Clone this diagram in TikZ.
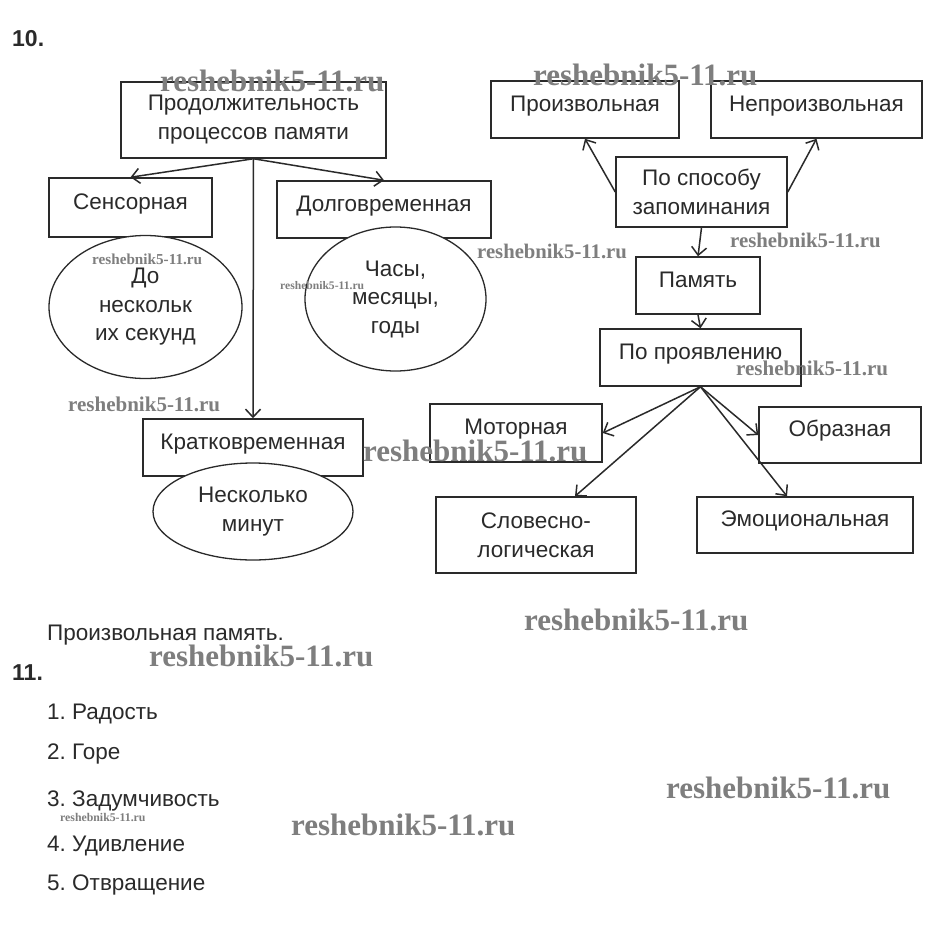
\documentclass[tikz,border=0pt]{standalone}
\usepackage{fontspec}
\setmainfont{Liberation Sans}
\newfontfamily\wmfont{Liberation Serif}
\usetikzlibrary{arrows.meta,shapes.geometric}
\definecolor{ink}{HTML}{2A2A2A}
\definecolor{wmgray}{HTML}{7E7E7E}
\tikzset{
  boxbase/.style={draw=ink, line width=1.5pt, inner sep=0pt, text=ink, font=\fontsize{22.5}{29}\selectfont},
  box/.style={boxbase, align=center},
  onebox/.style={boxbase, text height=16pt, text depth=13pt},
  oval/.style={ellipse, draw=ink, line width=1.3pt, fill=white, inner sep=0pt, text=ink, align=center, font=\fontsize{22.5}{28.5}\selectfont},
  arr/.style={draw=ink, line width=1.5pt, -{Straight Barb[length=8pt,width=15pt]}},
  wm/.style={font=\wmfont\bfseries\fontsize{#1}{#1}\selectfont, text=wmgray, anchor=base west, inner sep=0pt},
  item/.style={font=\fontsize{22.5}{26}\selectfont, text=ink, anchor=base west, inner sep=0pt},
  head/.style={font=\bfseries\fontsize{23}{27}\selectfont, text=ink, anchor=base west, inner sep=0pt}
}
\begin{document}
\frenchspacing
\begin{tikzpicture}[x=1pt,y=-1pt]
\fill[white] (0,0) rectangle (937,940);
\useasboundingbox (0,0) rectangle (937,940);

\node[head] (n10) at (12,46) {10.};

% left tree
\node[box, minimum width=265pt, minimum height=76pt] (A) at (253.5,120) {Продолжительность\\процессов памяти};
\node[onebox, minimum width=163pt, minimum height=59pt] (sens) at (130.5,207.5) {Сенсорная};
\node[onebox, minimum width=214pt, minimum height=57pt] (dolg) at (384,209.5) {Долговременная};
\node[onebox, minimum width=220pt, minimum height=57pt] (krat) at (253,447.5) {Кратковременная};

% right tree
\node[onebox, minimum width=188pt, minimum height=57pt] (proizv) at (585,109.5) {Произвольная};
\node[onebox, minimum width=211pt, minimum height=57pt] (neproizv) at (816.5,109.5) {Непроизвольная};
\node[box, minimum width=171pt, minimum height=70pt] (sposob) at (701.5,192) {По способу\\запоминания};
\node[onebox, minimum width=124pt, minimum height=57pt] (pamyat) at (698,285.5) {Память};
\node[onebox, minimum width=201pt, minimum height=57pt] (proyav) at (700.5,357.5) {По проявлению};
\node[onebox, minimum width=172pt, minimum height=58pt] (motor) at (516,433) {Моторная};
\node[onebox, minimum width=162pt, minimum height=56pt] (obraz) at (840,435) {Образная};
\node[box, minimum width=200pt, minimum height=76pt] (slov) at (536,535) {Словесно-\\логическая};
\node[onebox, minimum width=216pt, minimum height=56pt] (emoc) at (805,525) {Эмоциональная};

% connectors
\draw[arr] (A.south) -- (sens.north);
\draw[arr] (A.south) -- (dolg.north);
\draw[arr] (A.south) -- (krat.north);
\draw[arr] (sposob.west) -- (proizv.south);
\draw[arr] (sposob.east) -- (neproizv.south);
\draw[arr] (sposob.south) -- (pamyat.north);
\draw[arr] (pamyat.south) -- (proyav.north);
\draw[arr] (proyav.south) -- (motor.east);
\draw[arr] (proyav.south) -- ([xshift=39pt]slov.north);
\draw[arr] (proyav.south) -- (obraz.west);
\draw[arr] (proyav.south) -- ([xshift=-18pt]emoc.north);

% ellipses
\node[oval, minimum width=193pt, minimum height=143pt] (e1) at (145.5,307) {До\\нескольк\\их секунд};
\node[oval, minimum width=181pt, minimum height=144pt] (e2) at (395.5,299) {Часы,\\месяцы,\\годы};
\node[oval, minimum width=200pt, minimum height=97pt] (e3) at (253,511.5) {Несколько\\минут};

% bottom text
\node[item] (ans) at (47,640) {Произвольная память.};
\node[head] (n11) at (12,680) {11.};
\node[item] (i1) at (47,719) {1. Радость};
\node[item] (i2) at (47,759) {2. Горе};
\node[item] (i3) at (47,806) {3. Задумчивость};
\node[item] (i4) at (47,851) {4. Удивление};
\node[item] (i5) at (47,890) {5. Отвращение};

% watermarks
\node[wm=31] (w1) at (160,91) {reshebnik5-11.ru};
\node[wm=31] (w2) at (533,85) {reshebnik5-11.ru};
\node[wm=15.2] (w3) at (92,264) {reshebnik5-11.ru};
\node[wm=11.6] (w4) at (280,289) {reshebnik5-11.ru};
\node[wm=20.7] (w5) at (477,258) {reshebnik5-11.ru};
\node[wm=20.8] (w6) at (730,247) {reshebnik5-11.ru};
\node[wm=21] (w7) at (68,411) {reshebnik5-11.ru};
\node[wm=31] (w8) at (363,461) {reshebnik5-11.ru};
\node[wm=21] (w9) at (736,375) {reshebnik5-11.ru};
\node[wm=31] (w10) at (524,630) {reshebnik5-11.ru};
\node[wm=31] (w11) at (149,666) {reshebnik5-11.ru};
\node[wm=31] (w12) at (666,798) {reshebnik5-11.ru};
\node[wm=11.8] (w13) at (60,821) {reshebnik5-11.ru};
\node[wm=31] (w14) at (291,835) {reshebnik5-11.ru};
\end{tikzpicture}
\end{document}
